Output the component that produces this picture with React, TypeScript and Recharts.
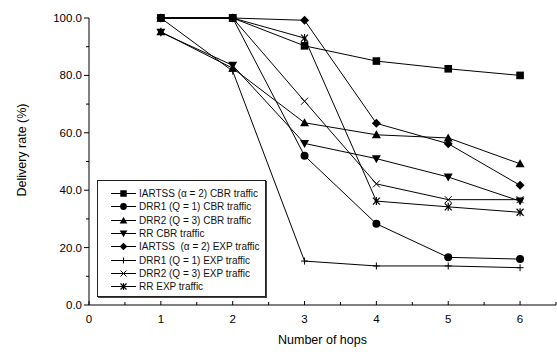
import React from 'react';
import { LineChart, Line, XAxis, YAxis } from 'recharts';

const hops = [1, 2, 3, 4, 5, 6];
const iartssCbr = [100, 100, 90.3, 85, 82.3, 80];
const drr1Cbr = [100, 100, 52, 28.3, 16.6, 16];
const drr2Cbr = [95.2, 82.5, 63.5, 59.3, 58.2, 49.2];
const rrCbr = [95, 83.5, 56.3, 51, 44.6, 36.2];
const iartssExp = [100, 100, 99.2, 63.3, 56.2, 41.7];
const drr1Exp = [100, 81.5, 15.3, 13.6, 13.6, 13];
const drr2Exp = [100, 100, 71, 42.2, 36.7, 36.7];
const rrExp = [100, 100, 93, 36.2, 34.2, 32.3];

const xTicks = [0, 0.5, 1, 1.5, 2, 2.5, 3, 3.5, 4, 4.5, 5, 5.5, 6, 6.5];
const yTicks = [0, 10, 20, 30, 40, 50, 60, 70, 80, 90, 100];

const series = [
  { key: 'iartssCbr', name: 'IARTSS (\u03b1 = 2) CBR traffic', values: iartssCbr, marker: 'square' },
  { key: 'drr1Cbr', name: 'DRR1 (Q = 1) CBR traffic', values: drr1Cbr, marker: 'circle' },
  { key: 'drr2Cbr', name: 'DRR2 (Q = 3) CBR traffic', values: drr2Cbr, marker: 'triUp' },
  { key: 'rrCbr', name: 'RR CBR traffic', values: rrCbr, marker: 'triDown' },
  { key: 'iartssExp', name: 'IARTSS  (\u03b1 = 2) EXP traffic', values: iartssExp, marker: 'diamond' },
  { key: 'drr1Exp', name: 'DRR1 (Q = 1) EXP traffic', values: drr1Exp, marker: 'plus' },
  { key: 'drr2Exp', name: 'DRR2 (Q = 3) EXP traffic', values: drr2Exp, marker: 'cross' },
  { key: 'rrExp', name: 'RR EXP traffic', values: rrExp, marker: 'star' },
];

const data = hops.map((h, i) => {
  const row: Record<string, number> = { hop: h };
  series.forEach((s) => { row[s.key] = s.values[i]; });
  return row;
});

const FONT = '"Liberation Sans", Arial, Helvetica, sans-serif';

function Marker({ cx, cy, type, s = 1 }: { cx: number; cy: number; type: string; s?: number }) {
  const c = '#000';
  const a = 3.8 * s;
  const t = 4.5 * s;
  const p = 3.5 * s;
  switch (type) {
    case 'square':
      return <rect x={cx - a} y={cy - a} width={2 * a} height={2 * a} fill={c} />;
    case 'circle':
      return <circle cx={cx} cy={cy} r={4 * s} fill={c} />;
    case 'triUp':
      return <polygon points={`${cx},${cy - t} ${cx + t},${cy + p} ${cx - t},${cy + p}`} fill={c} />;
    case 'triDown':
      return <polygon points={`${cx},${cy + t} ${cx + t},${cy - p} ${cx - t},${cy - p}`} fill={c} />;
    case 'diamond':
      return <polygon points={`${cx},${cy - t} ${cx + t},${cy} ${cx},${cy + t} ${cx - t},${cy}`} fill={c} />;
    case 'plus':
      return (
        <g stroke={c} strokeWidth={1}>
          <line x1={cx - p} y1={cy} x2={cx + p} y2={cy} />
          <line x1={cx} y1={cy - p} x2={cx} y2={cy + p} />
        </g>
      );
    case 'cross':
      return (
        <g stroke={c} strokeWidth={1}>
          <line x1={cx - p} y1={cy - p} x2={cx + p} y2={cy + p} />
          <line x1={cx - p} y1={cy + p} x2={cx + p} y2={cy - p} />
        </g>
      );
    case 'star':
      return (
        <g stroke={c} strokeWidth={1.2}>
          <line x1={cx - p} y1={cy - p} x2={cx + p} y2={cy + p} />
          <line x1={cx - p} y1={cy + p} x2={cx + p} y2={cy - p} />
          <line x1={cx} y1={cy - 4 * s} x2={cx} y2={cy + 4 * s} />
          <line x1={cx - 2 * s} y1={cy} x2={cx + 2 * s} y2={cy} />
        </g>
      );
    default:
      return null;
  }
}

function XTick(props: any) {
  const { x, payload } = props;
  const y = 305;
  const v = payload.value;
  const major = Number.isInteger(v);
  return (
    <g>
      <line x1={x} y1={y - (major ? 4 : 3)} x2={x} y2={y} stroke="#000" />
      {major && (
        <text x={x} y={y + 18} textAnchor="middle" fontSize={11.5} fontFamily={FONT} fill="#000">
          {v}
        </text>
      )}
    </g>
  );
}

function YTick(props: any) {
  const { y, payload } = props;
  const x = 89;
  const v = payload.value;
  const major = v % 20 === 0;
  return (
    <g>
      <line x1={x} y1={y} x2={x - (major ? 5 : 3)} y2={y} stroke="#000" />
      {major && (
        <text x={x - 7} y={y + 4} textAnchor="end" fontSize={11.5} fontFamily={FONT} fill="#000">
          {v.toFixed(1)}
        </text>
      )}
    </g>
  );
}

function LegendBox() {
  return (
    <div
      style={{
        position: 'absolute',
        left: 97,
        top: 180,
        width: 169,
        height: 117,
        border: '1px solid #222',
        boxShadow: '1px 1px 0 #444',
        boxSizing: 'border-box',
        background: '#fff',
        fontFamily: FONT,
        fontSize: 10,
        paddingTop: 6,
      }}
    >
      {series.map((s) => (
        <div key={s.key} style={{ height: 13.3, display: 'flex', alignItems: 'center', whiteSpace: 'pre' }}>
          <svg width={41} height={13} style={{ flex: 'none' }}>
            <line x1={13} y1={6.5} x2={38} y2={6.5} stroke="#000" strokeWidth={1} />
            <Marker cx={25.5} cy={6.5} type={s.marker} s={0.85} />
          </svg>
          <span style={{ color: '#111' }}>{s.name}</span>
        </div>
      ))}
    </div>
  );
}

export default function App() {
  return (
    <div style={{ position: 'absolute', left: 0, top: 0, width: 557, height: 352, background: '#fff' }}>
      <LineChart width={557} height={352} data={data} margin={{ top: 18, right: 1, bottom: 17, left: 29 }}>
        <XAxis
          dataKey="hop"
          type="number"
          domain={[0, 6.5]}
          ticks={xTicks}
          interval={0}
          tick={<XTick />}
          tickLine={false}
          axisLine={{ stroke: '#000' }}
          height={30}
        />
        <YAxis
          type="number"
          domain={[0, 100]}
          ticks={yTicks}
          interval={0}
          tick={<YTick />}
          tickLine={false}
          axisLine={{ stroke: '#000' }}
          width={60}
        />
        {series.map((s) => (
          <Line
            key={s.key}
            dataKey={s.key}
            name={s.name}
            stroke="#000"
            strokeWidth={1}
            isAnimationActive={false}
            dot={(p: any) => <Marker key={`${s.key}-${p.index}`} cx={p.cx} cy={p.cy} type={s.marker} />}
            activeDot={false}
          />
        ))}
      </LineChart>
      <LegendBox />
      <div
        style={{
          position: 'absolute',
          left: 89,
          width: 467,
          top: 333,
          textAlign: 'center',
          fontFamily: FONT,
          fontSize: 12.5,
          color: '#000',
        }}
      >
        Number of hops
      </div>
      <div
        style={{
          position: 'absolute',
          left: 22,
          top: 150,
          transform: 'translate(-50%, -50%) rotate(-90deg)',
          whiteSpace: 'nowrap',
          fontFamily: FONT,
          fontSize: 12.5,
          color: '#000',
        }}
      >
        Delivery rate (%)
      </div>
    </div>
  );
}
